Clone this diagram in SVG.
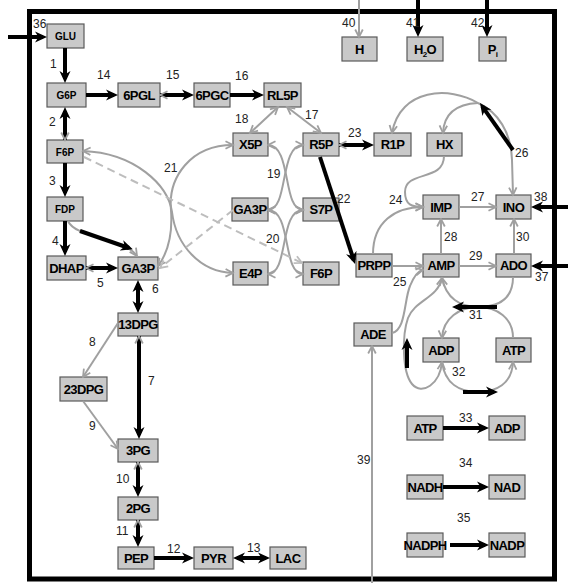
<svg xmlns="http://www.w3.org/2000/svg" width="568" height="583" viewBox="0 0 568 583">
<style>
.n rect{fill:#c9c9c9;stroke:#5a5a5a;stroke-width:1.2}
.n text{font-family:"Liberation Sans",Arial,sans-serif;font-weight:bold;font-size:13px;fill:#000;text-anchor:middle;letter-spacing:-0.6px}
.n text.s{font-size:10px;letter-spacing:0}
.lb{font-family:"Liberation Sans",Arial,sans-serif;font-size:12px;fill:#222}
.b{stroke:#000;stroke-width:4;fill:none}
.g{stroke:#a0a0a0;stroke-width:2;fill:none}
.d{stroke:#bdbdbd;stroke-width:2;fill:none;stroke-dasharray:8,5}
</style>
<defs>
<marker id="bk" viewBox="0 0 12 12" refX="8" refY="6" markerWidth="12" markerHeight="12" markerUnits="userSpaceOnUse" orient="auto-start-reverse"><path d="M0,0.5 L12,6 L0,11.5 L3.5,6 z" fill="#000"/></marker>
<marker id="gh" viewBox="0 0 10 10" refX="8.5" refY="5" markerWidth="10" markerHeight="10" markerUnits="userSpaceOnUse" orient="auto-start-reverse"><path d="M1,1.2 L8.5,5 L1,8.8" fill="none" stroke="#a0a0a0" stroke-width="1.8"/></marker>
<marker id="dh" viewBox="0 0 10 10" refX="8.5" refY="5" markerWidth="10" markerHeight="10" markerUnits="userSpaceOnUse" orient="auto-start-reverse"><path d="M1,1.2 L8.5,5 L1,8.8" fill="none" stroke="#bdbdbd" stroke-width="1.8"/></marker>
</defs>
<rect x="29.5" y="11.5" width="525" height="567.5" fill="none" stroke="#000" stroke-width="5"/>

<g id="GLU" class="n"><rect x="47" y="24" width="37" height="24"/><text class="s" x="65.5" y="40">GLU</text></g>
<g id="G6P" class="n"><rect x="47" y="83" width="39" height="24"/><text class="s" x="66.5" y="99">G6P</text></g>
<g id="6PGL" class="n"><rect x="118" y="83" width="42" height="24"/><text x="139" y="99.6">6PGL</text></g>
<g id="6PGC" class="n"><rect x="194" y="83" width="36" height="24"/><text x="212" y="99.6">6PGC</text></g>
<g id="RL5P" class="n"><rect x="264" y="83" width="37" height="24"/><text x="282.5" y="99.6">RL5P</text></g>
<g id="F6P" class="n"><rect x="47" y="140" width="36" height="23"/><text class="s" x="65" y="155.5">F6P</text></g>
<g id="FDP" class="n"><rect x="47" y="197" width="36" height="24"/><text class="s" x="65" y="213">FDP</text></g>
<g id="DHAP" class="n"><rect x="47" y="256" width="39" height="24"/><text x="66.5" y="272.6">DHAP</text></g>
<g id="GA3P" class="n"><rect x="118" y="257" width="40" height="23"/><text x="138" y="273.1">GA3P</text></g>
<g id="X5P" class="n"><rect x="233" y="133" width="35" height="23"/><text x="250.5" y="149.1">X5P</text></g>
<g id="R5P" class="n"><rect x="303" y="133" width="36" height="23"/><text x="321" y="149.1">R5P</text></g>
<g id="GA3P_2" class="n"><rect x="232" y="198" width="36" height="23"/><text x="250" y="214.1">GA3P</text></g>
<g id="S7P" class="n"><rect x="303" y="198" width="36" height="23"/><text x="321" y="214.1">S7P</text></g>
<g id="E4P" class="n"><rect x="233" y="262" width="35" height="23"/><text x="250.5" y="278.1">E4P</text></g>
<g id="F6P_2" class="n"><rect x="303" y="262" width="36" height="23"/><text x="321" y="278.1">F6P</text></g>
<g id="13DPG" class="n"><rect x="118" y="313" width="40" height="23"/><text x="138" y="329.1">13DPG</text></g>
<g id="23DPG" class="n"><rect x="60" y="377" width="47" height="24"/><text x="83.5" y="393.6">23DPG</text></g>
<g id="3PG" class="n"><rect x="118" y="439" width="40" height="23"/><text x="138" y="455.1">3PG</text></g>
<g id="2PG" class="n"><rect x="118" y="497" width="40" height="23"/><text x="138" y="513.1">2PG</text></g>
<g id="PEP" class="n"><rect x="118" y="547" width="36" height="22"/><text x="136" y="562.6">PEP</text></g>
<g id="PYR" class="n"><rect x="194" y="547" width="39" height="22"/><text x="213.5" y="562.6">PYR</text></g>
<g id="LAC" class="n"><rect x="270" y="547" width="36" height="22"/><text x="288" y="562.6">LAC</text></g>
<g id="H" class="n"><rect x="342" y="37" width="35" height="24"/><text x="359.5" y="53.6">H</text></g>
<g id="H2O" class="n"><rect x="407" y="37" width="36" height="24"/><text x="425" y="53.6">H<tspan font-size="8" dy="3">2</tspan><tspan dy="-3">O</tspan></text></g>
<g id="Pi" class="n"><rect x="479" y="37" width="27" height="24"/><text x="492.5" y="53.6">P<tspan font-size="8" dy="3">i</tspan></text></g>
<g id="R1P" class="n"><rect x="374" y="133" width="37" height="23"/><text x="392.5" y="149.1">R1P</text></g>
<g id="HX" class="n"><rect x="427" y="133" width="35" height="23"/><text x="444.5" y="149.1">HX</text></g>
<g id="IMP" class="n"><rect x="423" y="195" width="36" height="24"/><text x="441" y="211.6">IMP</text></g>
<g id="INO" class="n"><rect x="496" y="195" width="35" height="24"/><text x="513.5" y="211.6">INO</text></g>
<g id="PRPP" class="n"><rect x="356" y="254" width="36" height="23"/><text x="374" y="270.1">PRPP</text></g>
<g id="AMP" class="n"><rect x="423" y="254" width="36" height="23"/><text x="441" y="270.1">AMP</text></g>
<g id="ADO" class="n"><rect x="496" y="254" width="35" height="23"/><text x="513.5" y="270.1">ADO</text></g>
<g id="ADE" class="n"><rect x="354" y="323" width="38" height="23"/><text x="373" y="339.1">ADE</text></g>
<g id="ADP" class="n"><rect x="423" y="338" width="36" height="24"/><text x="441" y="354.6">ADP</text></g>
<g id="ATP" class="n"><rect x="496" y="338" width="35" height="24"/><text x="513.5" y="354.6">ATP</text></g>
<g id="ATP_2" class="n"><rect x="407" y="416" width="36" height="24"/><text x="425" y="432.6">ATP</text></g>
<g id="ADP_2" class="n"><rect x="489" y="416" width="36" height="24"/><text x="507" y="432.6">ADP</text></g>
<g id="NADH" class="n"><rect x="407" y="475" width="36" height="24"/><text x="425" y="491.6">NADH</text></g>
<g id="NAD" class="n"><rect x="489" y="475" width="36" height="24"/><text x="507" y="491.6">NAD</text></g>
<g id="NADPH" class="n"><rect x="407" y="533" width="36" height="24"/><text x="425" y="549.6">NADPH</text></g>
<g id="NADP" class="n"><rect x="489" y="533" width="36" height="24"/><text x="507" y="549.6">NADP</text></g>

<g id="connectors">
<path class="g" d="M359,0 L359,37" marker-end="url(#gh)"/>
<path class="g" d="M372,583 L372,346" marker-end="url(#gh)"/>
<path class="g" d="M287,107 L321,133" marker-start="url(#gh)" marker-end="url(#gh)"/>
<path class="g" d="M278,107 L250,133" marker-start="url(#gh)" marker-end="url(#gh)"/>
<path class="g" d="M268,145 C292,145 282,210 303,210" marker-start="url(#gh)" marker-end="url(#gh)"/>
<path class="g" d="M303,145 C279,145 289,210 268,210" marker-start="url(#gh)" marker-end="url(#gh)"/>
<path class="g" d="M268,210 C292,210 282,274 303,274" marker-start="url(#gh)" marker-end="url(#gh)"/>
<path class="g" d="M303,210 C279,210 289,274 268,274" marker-start="url(#gh)" marker-end="url(#gh)"/>
<path class="g" d="M233,145 C190,145 168,178 171,210 C173,238 167,254 158,266" marker-start="url(#gh)" marker-end="url(#gh)"/>
<path class="g" d="M83,151 C135,153 168,185 172,212 C176,245 200,272 233,273" marker-start="url(#gh)" marker-end="url(#gh)"/>
<path class="d" d="M84,157 L302,263" marker-end="url(#dh)"/>
<path class="d" d="M233,210 L160,268" marker-end="url(#dh)"/>
<path class="g" d="M68,221 C75,238 125,238 137,256" marker-end="url(#gh)"/>
<path class="g" d="M118,323 L83,377" marker-end="url(#gh)"/>
<path class="g" d="M83,401 L118,449" marker-end="url(#gh)"/>
<path class="g" d="M444,156 C444,182 405,170 405,192 C405,205 412,207 423,207" marker-end="url(#gh)"/>
<path class="g" d="M373,254 C373,222 395,207 423,207" marker-end="url(#gh)"/>
<path class="g" d="M392,266 L423,266" marker-end="url(#gh)"/>
<path class="g" d="M459,207 L496,207" marker-end="url(#gh)"/>
<path class="g" d="M441,254 L441,219" marker-end="url(#gh)"/>
<path class="g" d="M459,266 L496,266" marker-end="url(#gh)"/>
<path class="g" d="M514,254 L514,219" marker-end="url(#gh)"/>
<path class="g" d="M478,103 C498,112 511,132 512,160 L513,195" marker-end="url(#gh)"/>
<path class="g" d="M478,103 C450,86 400,88 392,133" marker-end="url(#gh)"/>
<path class="g" d="M478,103 C458,104 444,112 443,133" marker-end="url(#gh)"/>
<path class="g" d="M392,333 C406,330 404,300 410,286 C414,276 418,271 423,270" marker-end="url(#gh)"/>
<path class="g" d="M513,277 C513,300 497,307 478,307 C460,307 446,298 442,278" marker-end="url(#gh)"/>
<path class="g" d="M513,338 C513,318 497,307 478,307 C460,307 443,318 442,338" marker-end="url(#gh)"/>
<path class="g" d="M442,362 C445,384 460,392 478,392 C496,392 512,384 513,362" marker-end="url(#gh)"/>
<path class="g" d="M442,362 C440,384 422,396 412,384 C402,372 402,335 408,318 C415,300 438,298 442,278" marker-start="url(#gh)" marker-end="url(#gh)"/>
<path class="b" d="M8,37 L43,37" marker-end="url(#bk)"/>
<path class="b" d="M65,48 L65,79" marker-end="url(#bk)"/>
<path class="b" d="M86,95 L114,95" marker-end="url(#bk)"/>
<path class="b" d="M160,95 L190,95" marker-start="url(#gh)" marker-end="url(#bk)"/>
<path class="b" d="M230,95 L260,95" marker-end="url(#bk)"/>
<path class="b" d="M65,140 L65,111" marker-start="url(#gh)" marker-end="url(#bk)"/>
<path class="b" d="M65,163 L65,193" marker-end="url(#bk)"/>
<path class="b" d="M65,221 L65,252" marker-end="url(#bk)"/>
<path class="b" d="M80,231 L129,248" marker-end="url(#bk)"/>
<path class="b" d="M86,268 L114,268" marker-start="url(#gh)" marker-end="url(#bk)"/>
<path class="b" d="M138,284 L138,309" marker-start="url(#bk)" marker-end="url(#bk)"/>
<path class="b" d="M139,336 L139,435" marker-start="url(#gh)" marker-end="url(#bk)"/>
<path class="b" d="M138,462 L138,493" marker-start="url(#gh)" marker-end="url(#bk)"/>
<path class="b" d="M138,520 L138,543" marker-start="url(#gh)" marker-end="url(#bk)"/>
<path class="b" d="M154,558 L190,558" marker-end="url(#bk)"/>
<path class="b" d="M237,558 L266,558" marker-start="url(#bk)" marker-end="url(#bk)"/>
<path class="b" d="M320,157 L353.8,260.2" marker-end="url(#bk)"/>
<path class="b" d="M339,145 L370,145" marker-start="url(#gh)" marker-end="url(#bk)"/>
<path class="b" d="M418,0 L418,33" marker-end="url(#bk)"/>
<path class="b" d="M487,0 L487,33" marker-end="url(#bk)"/>
<path class="b" d="M568,207 L535,207" marker-end="url(#bk)"/>
<path class="b" d="M568,266 L535,266" marker-end="url(#bk)"/>
<path class="b" d="M513,150 L482.3,106.3" marker-end="url(#bk)"/>
<path class="b" d="M497,307 L456,307" marker-end="url(#bk)"/>
<path class="b" d="M463,392 L494,392" marker-end="url(#bk)"/>
<path class="b" d="M407,368 L407,342" marker-end="url(#bk)"/>
<path class="b" d="M443,428 L485,428" marker-end="url(#bk)"/>
<path class="b" d="M443,487 L485,487" marker-end="url(#bk)"/>
<path class="b" d="M450,545 L485,545" marker-end="url(#bk)"/>
</g>

<g id="labels" class="lb">
<text x="33" y="28">36</text><text x="50" y="68">1</text><text x="97" y="79">14</text><text x="166" y="79">15</text><text x="235" y="80">16</text>
<text x="49" y="126">2</text><text x="49" y="185">3</text><text x="52" y="245">4</text><text x="97" y="287">5</text><text x="152" y="293">6</text>
<text x="164" y="172">21</text><text x="235" y="123">18</text><text x="305" y="119">17</text><text x="267" y="178">19</text><text x="266" y="243">20</text>
<text x="337" y="203">22</text><text x="348" y="137">23</text><text x="515" y="157">26</text><text x="342" y="27">40</text><text x="406" y="27">41</text><text x="471" y="27">42</text>
<text x="389" y="204">24</text><text x="471" y="201">27</text><text x="534" y="201">38</text><text x="444" y="241">28</text><text x="516" y="241">30</text>
<text x="469" y="260">29</text><text x="393" y="286">25</text><text x="535" y="281">37</text><text x="469" y="319">31</text><text x="452" y="376">32</text>
<text x="459" y="422">33</text><text x="459" y="467">34</text><text x="457" y="522">35</text><text x="357" y="464">39</text>
<text x="89" y="346">8</text><text x="148" y="385">7</text><text x="89" y="430">9</text><text x="116" y="483">10</text><text x="116" y="535">11</text>
<text x="167" y="553">12</text><text x="247" y="552">13</text>
</g>
</svg>
